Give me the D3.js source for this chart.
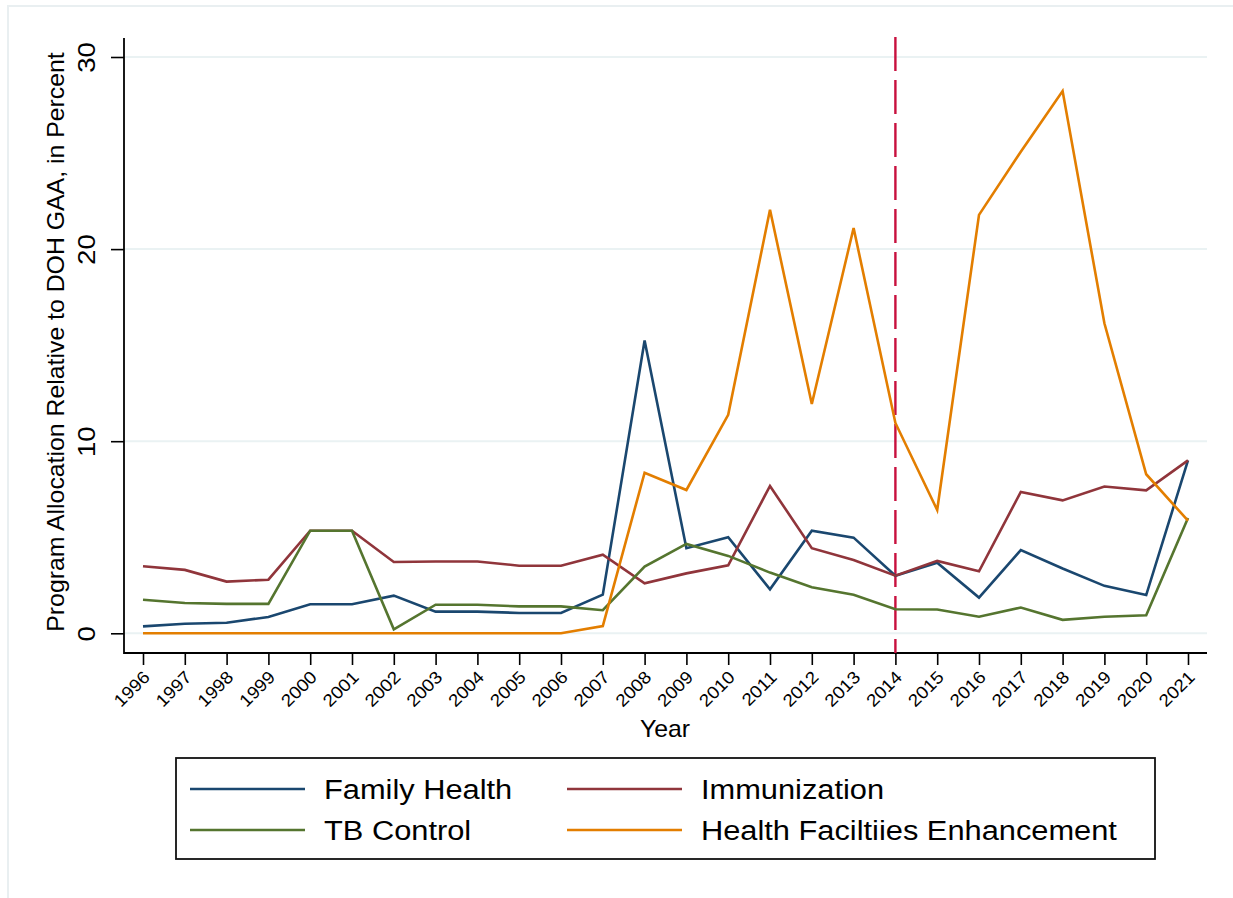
<!DOCTYPE html>
<meta charset="utf-8">
<style type="text/css">
body { margin: 0; background: #fff; }
text { font-family: "Liberation Sans", Arial, Helvetica, sans-serif; fill: #000; }
.line { fill: none; stroke-width: 2.6px; stroke-linejoin: miter; }
.grid { stroke: #eaf2f3; stroke-width: 2px; }
.axis-line { stroke: #000; stroke-width: 1.8px; }
</style>
<body></body>
<title>Program Allocation</title>
<script src="https://cdn.jsdelivr.net/npm/d3@7"></script>
<script>

// data
var years = [1996, 1997, 1998, 1999, 2000, 2001, 2002, 2003, 2004, 2005, 2006, 2007, 2008,
             2009, 2010, 2011, 2012, 2013, 2014, 2015, 2016, 2017, 2018, 2019, 2020, 2021];

var familyHealth = [0.36, 0.50, 0.55, 0.85, 1.51, 1.51, 1.96, 1.13, 1.13, 1.06, 1.06, 2.01, 15.24,
                    4.43, 5.00, 2.29, 5.34, 4.98, 3.00, 3.67, 1.86, 4.33, 3.37, 2.47, 1.99, 9.00];
var immunization = [3.49, 3.30, 2.69, 2.79, 5.34, 5.34, 3.71, 3.74, 3.74, 3.52, 3.52, 4.09, 2.60,
                    3.12, 3.54, 7.67, 4.43, 3.82, 3.00, 3.77, 3.23, 7.36, 6.92, 7.64, 7.44, 9.00];
var tbControl = [1.75, 1.58, 1.53, 1.53, 5.34, 5.34, 0.21, 1.49, 1.49, 1.40, 1.40, 1.20, 3.47,
                 4.65, 4.03, 3.16, 2.40, 2.01, 1.25, 1.24, 0.86, 1.34, 0.70, 0.86, 0.94, 6.00];
var healthFacilities = [0, 0, 0, 0, 0, 0, 0, 0, 0, 0, 0, 0.38, 8.36,
                        7.46, 11.37, 22.05, 11.94, 21.1, 10.95, 6.42, 21.78, 25.07, 28.23, 16.14, 8.28, 5.86];

var yTicks = [0, 10, 20, 30];
var cutoffYear = 2014;

var series = [
    {name: "Family Health", values: familyHealth, color: "#1a476f"},
    {name: "Immunization", values: immunization, color: "#90353b"},
    {name: "TB Control", values: tbControl, color: "#55752f"},
    {name: "Health Faciltiies Enhancement", values: healthFacilities, color: "#e37e00"}
];

var W = 1233, H = 898;
var plot = {left: 124, right: 1207, top: 38, bottom: 653};

var x = d3.scaleLinear().domain([1996, 2021]).range([143, 1188]);
var y = d3.scaleLinear().domain([0, 30]).range([633.3, 57]);

var svg = d3.select("body")
    .append("svg")
    .attr("width", W)
    .attr("height", H);

// light outer frame of the graph region
svg.append("rect")
    .attr("x", 8).attr("y", 6)
    .attr("width", W + 20).attr("height", H + 20)
    .attr("fill", "#fff")
    .attr("stroke", "#e9eff1")
    .attr("stroke-width", 2);

// gridlines
svg.selectAll(".grid").data(yTicks)
    .enter().append("line")
    .attr("class", "grid")
    .attr("x1", plot.left).attr("x2", plot.right)
    .attr("y1", function(d) { return y(d); })
    .attr("y2", function(d) { return y(d); });

// y axis
var yAxis = svg.append("g")
    .attr("transform", "translate(" + plot.left + ",0)")
    .call(d3.axisLeft(y).tickValues(yTicks).tickSize(13).tickSizeOuter(0).tickFormat(d3.format("d")));
yAxis.select(".domain").remove();
yAxis.selectAll(".tick line").attr("stroke", "#000").attr("stroke-width", 1.6);
yAxis.selectAll(".tick text")
    .attr("x", 0).attr("dy", 0).attr("y", 0)
    .attr("text-anchor", "middle")
    .attr("transform", "translate(-29,0) rotate(-90) scale(1.15,1)")
    .style("font-size", "24px");

svg.append("line").attr("class", "axis-line")
    .attr("x1", plot.left).attr("x2", plot.left)
    .attr("y1", plot.top).attr("y2", plot.bottom + 0.9);

// x axis
var xAxis = svg.append("g")
    .attr("transform", "translate(0," + plot.bottom + ")")
    .call(d3.axisBottom(x).tickValues(years).tickSize(12).tickSizeOuter(0).tickFormat(d3.format("d")));
xAxis.select(".domain").remove();
xAxis.selectAll(".tick line").attr("stroke", "#000").attr("stroke-width", 1.6);
xAxis.selectAll(".tick text")
    .attr("x", 0).attr("y", 0).attr("dy", "0.35em")
    .attr("text-anchor", "end")
    .attr("transform", "translate(3,21) rotate(-45) scale(1.08,1)")
    .style("font-size", "17.5px");

svg.append("line").attr("class", "axis-line")
    .attr("x1", plot.left).attr("x2", plot.right)
    .attr("y1", plot.bottom).attr("y2", plot.bottom);

// vertical reference line
svg.append("line")
    .attr("x1", x(cutoffYear)).attr("x2", x(cutoffYear))
    .attr("y1", plot.top - 1).attr("y2", plot.bottom)
    .attr("stroke", "#c8103e")
    .attr("stroke-width", 2.4)
    .attr("stroke-dasharray", "34,9");

// series lines
var valueline = d3.line()
    .x(function(d, i) { return x(years[i]); })
    .y(function(d) { return y(d); });

series.forEach(function(s) {
    svg.append("path")
        .data([s.values])
        .attr("class", "line")
        .attr("d", valueline)
        .style("stroke", s.color);
});

// axis titles
svg.append("text")
    .attr("transform", "translate(665,737) scale(1.08,1)")
    .attr("text-anchor", "middle")
    .style("font-size", "23px")
    .text("Year");

svg.append("text")
    .attr("transform", "translate(64,342) rotate(-90) scale(1.08,1)")
    .attr("text-anchor", "middle")
    .style("font-size", "23px")
    .text("Program Allocation Relative to DOH GAA, in Percent");

// legend
svg.append("rect")
    .attr("x", 176).attr("y", 758)
    .attr("width", 979).attr("height", 101)
    .attr("fill", "#fff")
    .attr("stroke", "#111")
    .attr("stroke-width", 1.8);

var legendPos = [[190, 789], [567, 789], [190, 830], [567, 830]];
var legendOrder = [0, 1, 2, 3];

var lineLegend = svg.selectAll(".lineLegend").data(legendOrder)
    .enter().append("g")
    .attr("class", "lineLegend")
    .attr("transform", function(d, i) {
        return "translate(" + legendPos[i][0] + "," + legendPos[i][1] + ")";
    });

lineLegend.append("line")
    .attr("x1", 0).attr("x2", 115)
    .attr("y1", 0).attr("y2", 0)
    .attr("stroke", function(d) { return series[d].color; })
    .attr("stroke-width", 2.6);

lineLegend.append("text")
    .attr("transform", "translate(134,10) scale(1.1,1)")
    .style("font-size", "28px")
    .text(function(d) { return series[d].name; });

</script>
